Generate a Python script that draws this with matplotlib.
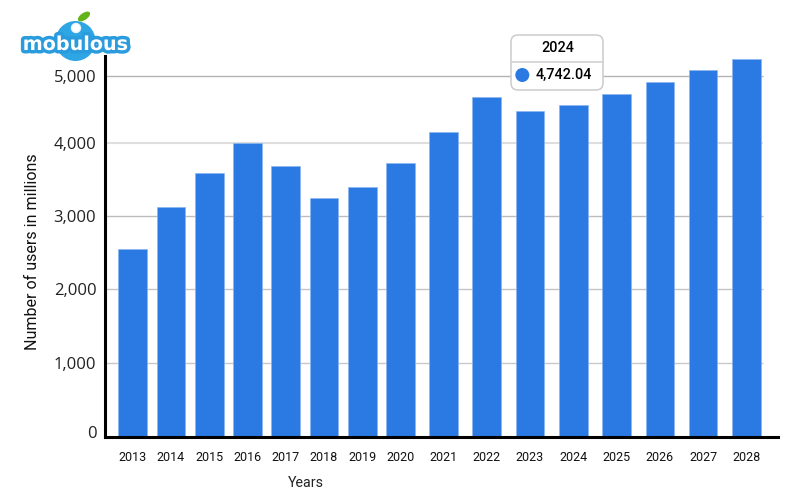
import numpy as np
import matplotlib
matplotlib.use("Agg")
import matplotlib.pyplot as plt
import matplotlib.patches as mpatches
import matplotlib.patheffects as pe
from matplotlib.transforms import ScaledTranslation

# ── Data ──────────────────────────────────────────────────────────────────────

years = [2013, 2014, 2015, 2016, 2017, 2018, 2019, 2020,
         2021, 2022, 2023, 2024, 2025, 2026, 2027, 2028]
users = [2554, 3123, 3587, 3996, 3682, 3245, 3395, 3723,
         4161, 4688, 4485, 4568, 4741, 4914, 5095, 5268]
y_ticks = [0, 1000, 2000, 3000, 4000, 5000]
tooltip_year = "2024"
tooltip_value = "4,742.04"

BLUE = "#2b79e3"
W, H = 801, 501

# ── The source axes are not evenly spaced, so map them piecewise ──────────────

x_from = [2012, 2020.45, 2020.55, 2029]
x_to = [94.2, 417.7, 424.0, 789.8]
y_from = [0, 1000, 2000, 3000, 4000, 5000, 6000]
y_to = [0, 73.7, 147.4, 220.7, 294.0, 360.4, 426.8]

fig = plt.figure(figsize=(W / 100, H / 100), dpi=100)
ax = fig.add_axes([104.7 / W, 1 - 436.7 / H, (778 - 104.7) / W, (436.7 - 56) / H])

ax.set_xscale("function", functions=(lambda v: np.interp(v, x_from, x_to),
                                     lambda v: np.interp(v, x_to, x_from)))
ax.set_yscale("function", functions=(lambda v: np.interp(v, y_from, y_to),
                                     lambda v: np.interp(v, y_to, y_from)))
ax.set_xlim(2012.27, 2028.73)
ax.set_ylim(0, 5306)

# ── Bars and grid ─────────────────────────────────────────────────────────────

widths = [0.75 if y <= 2020 else 0.663 for y in years]
ax.bar(years, users, width=widths, color=BLUE, edgecolor="#8db6ef", linewidth=0.5, zorder=3)

grid_colors = ["#c8c8c8", "#c4c4c4", "#bdbdbd", "#dedede", "#b4b4b4"]
grid_widths = [1.0, 1.0, 1.0, 1.5, 1.0]
for val, c, lw in zip(y_ticks[1:], grid_colors, grid_widths):
    ax.hlines(val, 2012.27, 2028.375, color=c, linewidth=lw, zorder=1)

ax.spines[["top", "right"]].set_visible(False)
for side in ["left", "bottom"]:
    ax.spines[side].set_linewidth(2.2)
    ax.spines[side].set_color("black")
    ax.spines[side].set_zorder(4)

ax.set_xticks(years)
ax.set_xticklabels([str(y) for y in years], fontsize=9, family="Roboto", color="#111111")
ax.set_yticks(y_ticks)
ax.set_yticklabels([f"{v:,}" for v in y_ticks], fontsize=12, family="Open Sans", color="#222222")
ax.minorticks_off()
ax.tick_params(axis="x", length=0, pad=10.5)
ax.tick_params(axis="y", length=0, pad=6)

# the 0 label sits a little above the axis line
zero = ax.get_yticklabels()[0]
zero.set_transform(zero.get_transform() + ScaledTranslation(0, 5 / 100, fig.dpi_scale_trans))

fig.text(306 / W, 1 - 483 / H, "Years", fontsize=10.3, family="Roboto",
         color="#222222", ha="center", va="center")
fig.text(33 / W, 1 - 252 / H, "Number of users in millions", fontsize=11.5, family="Roboto",
         color="#111111", rotation=90, ha="center", va="center")

# ── Overlays drawn in pixel coordinates ───────────────────────────────────────

over = fig.add_axes([0, 0, 1, 1], zorder=10)
over.set_xlim(0, W)
over.set_ylim(H, 0)
over.axis("off")

# tooltip
over.add_patch(mpatches.FancyBboxPatch((511, 35), 92, 55, boxstyle="round,pad=0,rounding_size=7",
                                       facecolor="white", edgecolor="#cccccc", linewidth=1.1))
over.plot([511, 603], [62, 62], color="#d2d2d2", linewidth=1.2)
over.add_patch(mpatches.Circle((522.3, 75), 7, facecolor=BLUE, edgecolor="none"))
over.text(558, 48, tooltip_year, fontsize=10.4, family="Roboto", weight="medium",
          color="black", ha="center", va="center")
over.text(536, 75.3, tooltip_value, fontsize=10.4, family="Roboto", weight="medium",
          color="black", ha="left", va="center")

# logo
over.add_patch(mpatches.Circle((75.5, 41), 20, facecolor="#2fa6e4", edgecolor="none"))
over.add_patch(mpatches.Circle((76, 28), 4.5, facecolor="white", edgecolor="#e8f4fb", linewidth=1))
over.add_patch(mpatches.Ellipse((84, 16.5), 14, 7, angle=-35, facecolor="#63b31a", edgecolor="none"))
over.text(75.5, 44.5, "mobulous", fontsize=13.8, family="DejaVu Sans", weight="bold",
          color="white", ha="center", va="center",
          path_effects=[pe.withStroke(linewidth=5, foreground="#2a9bdc")])

plt.savefig("out.png", dpi=100)
